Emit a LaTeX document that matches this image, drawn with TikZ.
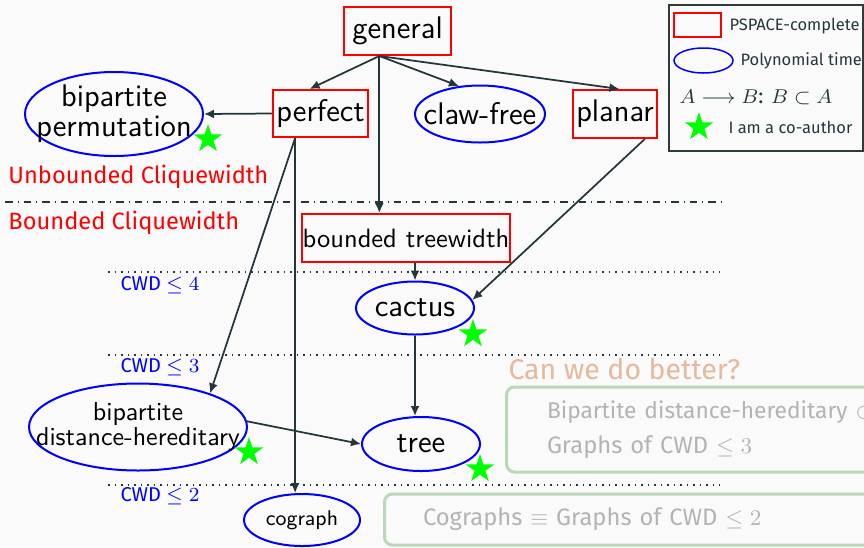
\documentclass[tikz,border=0pt]{standalone}
\usepackage{amsmath,amssymb}
\usepackage{fontspec}
\setmainfont{Fira Sans}
\usetikzlibrary{arrows.meta,shapes.geometric}
\usepackage{xcolor}

\definecolor{bgcol}{HTML}{FAFAFA}
\definecolor{arrcol}{HTML}{23373B}
\definecolor{hintgreen}{HTML}{B8D8B8}
\definecolor{hintgray}{HTML}{B3B3B3}
\definecolor{peach}{HTML}{E6B89C}
\definecolor{framecol}{HTML}{2F3B3B}

\begin{document}
\begin{tikzpicture}[
    x=0.4pt, y=-0.4pt,
    hard/.style={draw=red, line width=0.8pt, inner sep=0pt,
                 font=\sffamily\fontsize{12.5}{14}\selectfont},
    poly/.style={draw=blue, ellipse, line width=0.8pt, inner sep=0pt},
    ptxt/.style={font=\sffamily\fontsize{12.5}{12}\selectfont, align=center},
    coauth/.style={star, star points=5, star point ratio=2.6, fill=green,
                   inner sep=0pt, minimum size=12pt},
    arr/.style={-{Latex[length=4pt,width=3.6pt]}, line width=0.7pt, arrcol},
    level/.style={dotted, line width=0.6pt, arrcol},
    cwd/.style={font=\fontsize{8}{9}\selectfont, blue, anchor=west, inner sep=0pt},
    region/.style={font=\fontsize{9.45}{12}\selectfont, red, anchor=west, inner sep=0pt},
    hint/.style={draw=hintgreen, line width=1.2pt, rounded corners=3.2pt,
                 text=hintgray, anchor=west, align=left, inner xsep=16pt,
                 font=\fontsize{9.5}{14}\selectfont},
    lgd/.style={font=\fontsize{6.6}{8}\selectfont, anchor=west, inner sep=0pt, arrcol}
  ]
  \useasboundingbox[fill=bgcol] (0,0) rectangle (864,547);
  \clip (0,0) rectangle (864,547);

  % Unbounded cliquewidth
  \node[hard, minimum width=42.8pt, minimum height=19.2pt] (general) at (397.5,31) {general};
  \node[hard, minimum width=38pt, minimum height=18.8pt] (perfect) at (320.5,113.5) {perfect};
  \node[hard, minimum width=33.6pt, minimum height=19.2pt] (planar) at (615,114) {planar};
  \node[poly, minimum width=71.2pt, minimum height=33.6pt,
        label={[ptxt]center:{bipartite\\permutation}}] (bipperm) at (114,114) {};
  \node[poly, minimum width=52pt, minimum height=22.8pt,
        label={[ptxt]center:claw-free}] (clawfree) at (480,114) {};

  % Bounded cliquewidth
  \node[hard, minimum width=83.2pt, minimum height=19.2pt,
        font=\sffamily\fontsize{10.6}{12}\selectfont] (btw) at (406,238) {bounded treewidth};
  \node[poly, minimum width=47.2pt, minimum height=21.2pt,
        label={[ptxt]center:cactus}] (cactus) at (415,308) {};
  \node[poly, minimum width=47.2pt, minimum height=21.6pt,
        label={[ptxt]center:tree}] (tree) at (421,444) {};
  \node[poly, minimum width=87.2pt, minimum height=34.8pt,
        label={[ptxt, font=\sffamily\fontsize{10.4}{10}\selectfont]center:{bipartite\\distance-hereditary}}]
    (bipdh) at (138,427) {};
  \node[poly, minimum width=46.4pt, minimum height=20.8pt,
        label={[ptxt, font=\sffamily\fontsize{8.5}{10}\selectfont]center:cograph}] (cograph) at (302,520) {};

  % Co-author stars
  \node[coauth] (s-bipperm) at (208,139) {};
  \node[coauth] (s-cactus) at (473,334) {};
  \node[coauth] (s-bipdh) at (249,452) {};
  \node[coauth] (s-tree) at (480,469) {};

  % Inclusions
  \coordinate (gs) at (general.-126);
  \coordinate (ps) at (perfect.-136);
  \draw[arr] (gs) -- (perfect.114);
  \draw[arr] (gs) -- (clawfree.127);
  \draw[arr] (gs) -- (planar.80);
  \draw[arr] (gs) -- (gs |- btw.north);
  \draw[arr] (perfect.west) -- (bipperm.east);
  \draw[arr] (ps) -- (bipdh.25);
  \draw[arr] (ps) -- (ps |- cograph.north);
  \draw[arr] (planar.-40) -- (cactus.8);
  \draw[arr] (btw.south -| cactus.north) -- (cactus.north);
  \draw[arr] (cactus.south) -- (cactus.south |- tree.north);
  \draw[arr] (bipdh.3) -- (tree.west);

  % Levels
  \draw[dash dot, line width=0.6pt, arrcol] (5,202) -- (722,202);
  \foreach \y in {272,355,485}
    \draw[level] (108,\y) -- (720,\y);
  \node[region] (unbounded) at (8,177) {Unbounded Cliquewidth};
  \node[region] (bounded) at (8,223) {Bounded Cliquewidth};
  \node[cwd] (cwd4) at (120,285) {CWD $\le 4$};
  \node[cwd] (cwd3) at (120,367) {CWD $\le 3$};
  \node[cwd] (cwd2) at (120,496) {CWD $\le 2$};

  % Open questions
  \node[font=\fontsize{11.4}{13}\selectfont, text=peach, anchor=west, inner sep=0pt]
    (better) at (508,369) {Can we do better?};
  \node[hint, inner xsep=16.2pt, text width=170pt, minimum height=34pt] (hint3) at (505,429.5)
    {{\fontsize{9.1}{14}\selectfont Bipartite distance-hereditary $\subset$}\\Graphs of CWD $\le 3$};
  \node[hint, inner xsep=15.4pt, text width=200pt, minimum height=20.4pt] (hint2) at (383,519.5)
    {Cographs $\equiv$ Graphs of CWD $\le 2$};

  % Legend
  \node[draw=framecol, line width=0.8pt, fill=bgcol, minimum width=77.6pt, minimum height=58.4pt,
        anchor=north west, inner sep=0pt] (legend) at (668,4) {};
  \node[draw=red, line width=0.6pt, minimum width=18.8pt, minimum height=9.6pt, inner sep=0pt]
    (lgdhard) at (697.5,25) {};
  \node[lgd] (lgdhardtxt) at (729,26) {PSPACE-complete};
  \node[draw=blue, ellipse, line width=0.6pt, minimum width=23.6pt, minimum height=10pt, inner sep=0pt]
    (lgdpoly) at (703.5,60.5) {};
  \node[lgd] (lgdpolytxt) at (740,61) {Polynomial time};
  \node[lgd, font=\fontsize{8.5}{10}\selectfont] (lgdarr) at (679,97) {$A \longrightarrow B$: $B \subset A$};
  \node[coauth] (lgdstar) at (699,127) {};
  \node[lgd] (lgdstartxt) at (728,127) {I am a co-author};
\end{tikzpicture}
\end{document}
